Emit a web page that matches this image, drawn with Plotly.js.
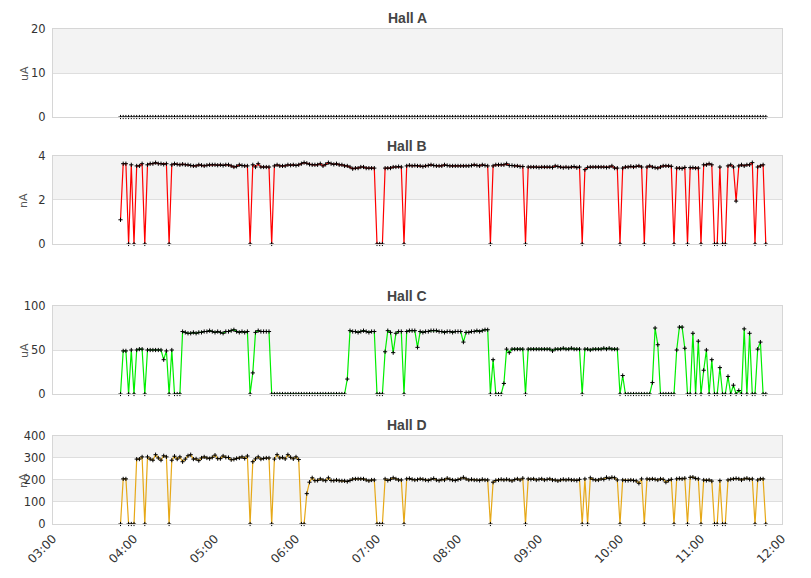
<!DOCTYPE html>
<html>
<head>
<meta charset="utf-8">
<script src="https://cdn.plot.ly/plotly-3.0.1.min.js"></script>
<style>
  html, body { margin: 0; padding: 0; background: #fff; }
  #chart { width: 811px; height: 578px; }
</style>
</head>
<body>
<div id="chart"></div>
<script>
// samples every 2 minutes, starting 03:50
var startMinutes = 3 * 60 + 50;
var stepMinutes = 2;

var hallNames = ["Hall A", "Hall B", "Hall C", "Hall D"];
var hallUnits = ["uA", "nA", "uA", "nA"];
var hallColors = ["#ffffff", "#ff0000", "#00ee00", "#e6a817"];

var hallA = [
  0,0,0,0,0,0,0,0,0,0, 0,0,0,0,0,0,0,0,0,0,
  0,0,0,0,0,0,0,0,0,0, 0,0,0,0,0,0,0,0,0,0,
  0,0,0,0,0,0,0,0,0,0, 0,0,0,0,0,0,0,0,0,0,
  0,0,0,0,0,0,0,0,0,0, 0,0,0,0,0,0,0,0,0,0,
  0,0,0,0,0,0,0,0,0,0, 0,0,0,0,0,0,0,0,0,0,
  0,0,0,0,0,0,0,0,0,0, 0,0,0,0,0,0,0,0,0,0,
  0,0,0,0,0,0,0,0,0,0, 0,0,0,0,0,0,0,0,0,0,
  0,0,0,0,0,0,0,0,0,0, 0,0,0,0,0,0,0,0,0,0,
  0,0,0,0,0,0,0,0,0,0, 0,0,0,0,0,0,0,0,0,0,
  0,0,0,0,0,0,0,0,0,0, 0,0,0,0,0,0,0,0,0,0,
  0,0,0,0,0,0,0,0,0,0, 0,0,0,0,0,0,0,0,0,0,
  0,0,0,0,0,0,0,0,0,0, 0,0,0,0,0,0,0,0,0,0
];

var hallB = [
  1.1,3.65,3.65,0,3.6,0,3.55,3.55,3.65,0,
  3.6,3.65,3.65,3.7,3.65,3.65,3.62,3.65,0,3.6,
  3.65,3.62,3.6,3.63,3.6,3.6,3.57,3.55,3.55,3.6,
  3.58,3.55,3.58,3.6,3.6,3.6,3.58,3.6,3.57,3.6,
  3.6,3.55,3.5,3.53,3.6,3.57,3.55,3.55,0,3.6,
  3.5,3.65,3.5,3.5,3.5,3.5,0,3.55,3.6,3.55,
  3.55,3.55,3.6,3.58,3.6,3.57,3.6,3.65,3.7,3.67,
  3.62,3.6,3.6,3.6,3.65,3.55,3.62,3.7,3.65,3.62,
  3.65,3.6,3.6,3.55,3.55,3.5,3.42,3.45,3.45,3.5,
  3.5,3.45,3.45,3.45,3.45,0,0,0,3.45,3.45,
  3.45,3.5,3.5,3.52,3.5,0,3.55,3.58,3.55,3.57,
  3.55,3.55,3.52,3.55,3.57,3.6,3.57,3.55,3.55,3.55,
  3.6,3.57,3.55,3.55,3.55,3.55,3.55,3.55,3.55,3.55,
  3.57,3.6,3.57,3.55,3.6,3.57,3.55,0,3.55,3.6,
  3.6,3.6,3.6,3.65,3.57,3.57,3.55,3.55,3.52,3.52,
  0,3.5,3.5,3.5,3.5,3.48,3.5,3.5,3.5,3.5,
  3.48,3.55,3.52,3.5,3.47,3.5,3.47,3.5,3.52,3.47,
  3.5,0,3.38,3.48,3.5,3.5,3.5,3.5,3.5,3.5,
  3.48,3.5,3.55,3.45,3.45,0,3.45,3.5,3.5,3.53,
  3.5,3.53,3.55,3.5,0,3.5,3.55,3.5,3.47,3.45,
  3.5,3.55,3.55,3.55,3.53,0,3.45,3.45,3.43,3.48,
  0,3.47,3.47,3.45,3.45,0,3.6,3.6,3.65,3.6,
  0,0,3.5,0,0,3.55,3.6,3.5,1.95,3.55,
  3.6,3.55,3.6,3.6,3.7,0,3.5,3.55,3.6,0
];

var hallC = [
  0,49,49,0,50,0,50,51,51,0,
  50,50,50,50,50,50,39,49,0,50,
  0,0,0,71,70,69,69,70,69,70,
  70,71,71,72,71,70,71,70,69,71,
  71,72,73,71,70,71,70,71,0,24,
  70,72,71,71,71,71,0,0,0,0,
  0,0,0,0,0,0,0,0,0,0,
  0,0,0,0,0,0,0,0,0,0,
  0,0,0,0,17,72,71,71,70,71,
  72,71,70,71,71,0,0,0,48,72,
  70,47,69,71,71,0,71,72,72,72,
  53,71,70,71,71,72,72,72,71,71,
  70,71,71,70,71,71,71,59,70,70,
  71,71,72,71,72,73,73,0,39,0,
  0,0,12,51,47,51,51,51,51,51,
  0,51,51,51,51,51,51,51,51,51,
  49,51,51,51,52,51,51,52,51,51,
  51,0,51,51,50,51,51,51,51,52,
  51,52,51,51,51,0,21,0,0,0,
  0,0,0,0,0,0,0,13,75,56,
  0,0,0,0,0,0,50,76,76,52,
  0,0,69,0,60,0,27,50,0,39,
  0,0,30,0,0,20,0,10,0,4,
  0,74,0,69,0,0,51,59,0,0
];

var hallD = [
  0,205,205,0,0,0,295,295,305,0,
  305,295,290,315,300,290,310,305,0,290,
  308,295,305,283,295,310,315,295,296,288,
  300,305,300,297,303,313,297,297,309,303,
  302,292,294,298,300,305,298,309,0,283,
  296,305,295,298,300,300,0,295,315,300,
  303,296,315,303,296,305,293,0,0,138,
  190,210,197,198,205,200,197,210,198,197,
  200,197,196,196,193,198,204,205,205,205,
  205,200,196,200,200,0,0,0,205,198,
  203,210,205,200,200,0,205,207,203,200,
  202,205,203,200,198,203,207,200,197,203,
  200,208,203,200,198,202,205,212,205,200,
  203,200,200,198,203,200,200,0,190,198,
  200,203,200,203,200,196,202,205,200,208,
  0,205,203,205,200,203,205,200,203,205,
  200,200,196,200,203,200,203,200,200,198,
  203,0,205,0,210,203,200,200,205,203,
  212,207,212,210,200,0,200,198,198,200,
  198,196,185,205,0,205,203,205,203,200,
  205,203,190,198,203,0,205,207,205,208,
  0,212,213,207,205,0,200,198,200,195,
  0,0,197,0,0,200,203,205,207,205,
  200,205,208,203,205,0,200,205,205,0
];

var yRanges = [[0, 20], [0, 4], [0, 100], [0, 400]];
var yTicks = [10, 2, 50, 100];
var yDomains = [[0.8222, 1], [0.5657, 0.7434], [0.2626, 0.4404], [0, 0.1778]];
var titleY = [1.0222, 0.7636, 0.4606, 0.2];
var bands = [[[10, 20]], [[2, 4]], [[50, 100]], [[300, 400], [100, 200]]];

function pad(n) { return (n < 10 ? "0" : "") + n; }

var times = [];
for (var i = 0; i < hallA.length; i++) {
  var m = startMinutes + i * stepMinutes;
  times.push("2000-01-01 " + pad(Math.floor(m / 60)) + ":" + pad(m % 60));
}

var series = [hallA, hallB, hallC, hallD];
var data = [];
var layout = {
  width: 811,
  height: 578,
  margin: {l: 53, r: 29, t: 29, b: 54},
  paper_bgcolor: "#ffffff",
  plot_bgcolor: "#ffffff",
  font: {family: "DejaVu Sans", size: 11, color: "#333"},
  showlegend: false,
  hovermode: false,
  shapes: [],
  annotations: []
};

for (var k = 0; k < 4; k++) {
  var xa = k === 0 ? "x" : "x" + (k + 1);
  var ya = k === 0 ? "y" : "y" + (k + 1);
  var xName = k === 0 ? "xaxis" : "xaxis" + (k + 1);
  var yName = k === 0 ? "yaxis" : "yaxis" + (k + 1);

  data.push({
    x: times,
    y: series[k],
    xaxis: xa,
    yaxis: ya,
    type: "scatter",
    mode: "lines+markers",
    line: {color: hallColors[k], width: k === 0 ? 1 : 1.2},
    marker: {symbol: "cross-thin", size: 3, color: "#000", line: {width: 1, color: "#000"}},
    cliponaxis: false
  });

  layout[xName] = {
    type: "date",
    anchor: ya,
    domain: [0, 1],
    range: ["2000-01-01 03:00", "2000-01-01 12:00"],
    dtick: 3600000,
    tickformat: "%H:%M",
    tickangle: -45,
    showticklabels: k === 3,
    showgrid: false,
    zeroline: false,
    showline: true,
    mirror: true,
    linecolor: "#d6d6d6",
    ticks: "",
    ticklabelstandoff: 2,
    tickfont: {size: 12, color: "#333"},
    automargin: false
  };
  if (k !== 3) layout[xName].matches = "x4";

  layout[yName] = {
    anchor: xa,
    domain: yDomains[k],
    range: yRanges[k],
    dtick: yTicks[k],
    showgrid: true,
    gridcolor: "#dedede",
    zeroline: false,
    showline: true,
    mirror: true,
    linecolor: "#d6d6d6",
    ticks: "",
    ticklabelstandoff: 4,
    tickfont: {size: 11.5, color: "#333"},
    automargin: false
  };

  bands[k].forEach(function(b) {
    layout.shapes.push({
      type: "rect", xref: xa + " domain", yref: ya,
      x0: 0, x1: 1, y0: b[0], y1: b[1],
      fillcolor: "#f3f3f3", line: {width: 0}, layer: "below"
    });
  });

  layout.annotations.push({
    text: "<b>" + hallNames[k] + "</b>",
    xref: "paper", yref: "paper",
    x: 0.4856, y: titleY[k],
    xanchor: "center", yanchor: "middle",
    showarrow: false,
    font: {family: "Liberation Sans", size: 14, color: "#444"}
  });
  layout.annotations.push({
    text: hallUnits[k],
    xref: "paper", yref: "paper",
    x: -0.0398, y: (yDomains[k][0] + yDomains[k][1]) / 2,
    xanchor: "center", yanchor: "middle",
    textangle: -90,
    showarrow: false,
    font: {family: "DejaVu Sans", size: 11, color: "#555"}
  });
}

Plotly.newPlot("chart", data, layout, {displayModeBar: false, staticPlot: true});
</script>
</body>
</html>
